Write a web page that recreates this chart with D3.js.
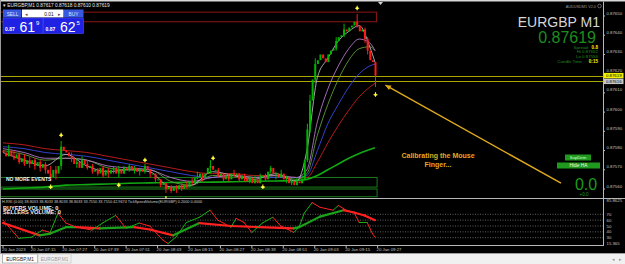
<!DOCTYPE html>
<html>
<head>
<meta charset="utf-8">
<script src="https://cdn.jsdelivr.net/npm/d3@7"></script>
<style>
  html, body { margin: 0; padding: 0; background: #f0f0f0; overflow: hidden; }
  svg { display: block; font-family: "Liberation Sans", Arial, sans-serif; }
</style>
</head>
<body>
<script>
// EURGBP M1 candles, 20 Jan 2023 (bar 0 = 07:04)
const firstOpen = 0.87580;
const closes = [
  0.87579, 0.87577, 0.87580, 0.87577, 0.87576, 0.87578, 0.87574, 0.87576, 0.87573, 0.87575,
  0.87573, 0.87575, 0.87572, 0.87574, 0.87571, 0.87573, 0.87570, 0.87568, 0.87566, 0.87570,
  0.87568, 0.87572, 0.87582, 0.87580, 0.87579, 0.87577, 0.87576, 0.87573, 0.87574, 0.87571,
  0.87575, 0.87573, 0.87571, 0.87572, 0.87569, 0.87570, 0.87568, 0.87571, 0.87567, 0.87570,
  0.87568, 0.87570, 0.87571, 0.87568, 0.87570, 0.87568, 0.87571, 0.87570, 0.87572, 0.87570,
  0.87571, 0.87569, 0.87570, 0.87569, 0.87572, 0.87570, 0.87568, 0.87568, 0.87565, 0.87565,
  0.87562, 0.87563, 0.87560, 0.87561, 0.87559, 0.87561, 0.87560, 0.87562, 0.87560, 0.87562,
  0.87561, 0.87564, 0.87563, 0.87566, 0.87566, 0.87568, 0.87566, 0.87568, 0.87571, 0.87572,
  0.87570, 0.87570, 0.87567, 0.87568, 0.87565, 0.87567, 0.87565, 0.87568, 0.87567, 0.87568,
  0.87565, 0.87567, 0.87566, 0.87564, 0.87566, 0.87563, 0.87565, 0.87563, 0.87566, 0.87567,
  0.87565, 0.87569, 0.87571, 0.87568, 0.87568, 0.87566, 0.87568, 0.87565, 0.87566, 0.87563,
  0.87564, 0.87562, 0.87564, 0.87563, 0.87565, 0.87575, 0.87591, 0.87606, 0.87617, 0.87625,
  0.87627, 0.87630, 0.87628, 0.87626, 0.87630, 0.87632, 0.87633, 0.87637, 0.87639, 0.87640,
  0.87643, 0.87642, 0.87644, 0.87645, 0.87647, 0.87645, 0.87642, 0.87643, 0.87638, 0.87632,
  0.87627, 0.87626, 0.87619
];
// [bar, high, low] for candles with visible shadows
const wicks = [
  [2, 0.87583, 0.87577], [4, 0.87580, 0.87575], [6, 0.87579, 0.87573], [8, 0.87578, 0.87572],
  [10, 0.87577, 0.87571], [12, 0.87576, 0.87570], [14, 0.87575, 0.87569], [16, 0.87574, 0.87568],
  [18, 0.87572, 0.87564], [20, 0.87572, 0.87565], [22, 0.87585, 0.87570], [26, 0.87579, 0.87574],
  [28, 0.87576, 0.87571], [30, 0.87577, 0.87571], [32, 0.87575, 0.87570], [34, 0.87573, 0.87568],
  [36, 0.87571, 0.87567], [38, 0.87572, 0.87566], [40, 0.87571, 0.87566], [42, 0.87572, 0.87568],
  [44, 0.87572, 0.87566], [46, 0.87572, 0.87568], [48, 0.87573, 0.87569], [50, 0.87572, 0.87568],
  [52, 0.87571, 0.87567], [54, 0.87573, 0.87568], [56, 0.87570, 0.87566], [58, 0.87568, 0.87563],
  [60, 0.87565, 0.87561], [62, 0.87563, 0.87558], [64, 0.87562, 0.87558], [66, 0.87562, 0.87558],
  [68, 0.87563, 0.87559], [70, 0.87564, 0.87560], [72, 0.87566, 0.87562], [74, 0.87569, 0.87565],
  [76, 0.87568, 0.87564], [79, 0.87575, 0.87568], [82, 0.87571, 0.87566], [84, 0.87568, 0.87564],
  [86, 0.87568, 0.87564], [88, 0.87570, 0.87566], [90, 0.87568, 0.87564], [92, 0.87568, 0.87564],
  [94, 0.87567, 0.87563], [96, 0.87567, 0.87563], [98, 0.87568, 0.87563], [100, 0.87568, 0.87564],
  [102, 0.87572, 0.87568], [104, 0.87569, 0.87565], [106, 0.87570, 0.87566], [108, 0.87567, 0.87563],
  [110, 0.87566, 0.87562], [112, 0.87566, 0.87562], [114, 0.87567, 0.87563],
  [116, 0.87594, 0.87574], [117, 0.87609, 0.87589], [119, 0.87628, 0.87615], [127, 0.87639, 0.87632],
  [130, 0.87646, 0.87639], [135, 0.87651, 0.87644], [138, 0.87644, 0.87636], [139, 0.87639, 0.87630],
  [142, 0.87626, 0.87613]
];
const fractalUp = [[22, 0.87588], [54, 0.87575], [80, 0.87576], [135, 0.87654]];
const fractalDown = [[18, 0.87561], [44, 0.87562], [62, 0.87555], [99, 0.87561], [142, 0.87609]];

// moving averages, read at these bars
const maBars = [0, 8, 16, 24, 32, 40, 48, 56, 64, 72, 80, 88, 96, 104, 112, 116, 120, 124, 128, 132, 136, 140, 142];
const maGray = [0.87579, 0.87575, 0.87572, 0.87578, 0.87572, 0.87569, 0.87570, 0.87569, 0.87561, 0.87562, 0.87569, 0.87567, 0.87565, 0.87568, 0.87564, 0.87580, 0.87618, 0.87628, 0.87637, 0.87642, 0.87645, 0.87634, 0.87626];
const maPink = [0.87581, 0.87579, 0.87576, 0.87576, 0.87575, 0.87572, 0.87571, 0.87570, 0.87566, 0.87564, 0.87566, 0.87567, 0.87566, 0.87567, 0.87566, 0.87570, 0.87595, 0.87612, 0.87624, 0.87633, 0.87638, 0.87636, 0.87632];
const maGreen = [0.87580, 0.87578, 0.87575, 0.87576, 0.87575, 0.87571, 0.87570, 0.87570, 0.87564, 0.87562, 0.87567, 0.87567, 0.87566, 0.87567, 0.87565, 0.87568, 0.87588, 0.87604, 0.87617, 0.87627, 0.87633, 0.87634, 0.87632];
const maBlue = [0.87582, 0.87581, 0.87579, 0.87578, 0.87577, 0.87575, 0.87573, 0.87571, 0.87569, 0.87567, 0.87566, 0.87567, 0.87566, 0.87566, 0.87566, 0.87567, 0.87580, 0.87594, 0.87604, 0.87613, 0.87620, 0.87624, 0.87625];
const maRed = [0.87584, 0.87583, 0.87581, 0.87580, 0.87579, 0.87577, 0.87575, 0.87573, 0.87571, 0.87569, 0.87568, 0.87568, 0.87567, 0.87567, 0.87566, 0.87566, 0.87574, 0.87584, 0.87593, 0.87601, 0.87608, 0.87613, 0.87615];
const maSlow = [0.875600, 0.875605, 0.875610, 0.875620, 0.875623, 0.875626, 0.875630, 0.875632, 0.875634, 0.875635, 0.875636, 0.875638, 0.875640, 0.875642, 0.875644, 0.875650, 0.875670, 0.875700, 0.875730, 0.875760, 0.875785, 0.875805, 0.875815];

// zones
const supplyZone = [0.87647, 0.87652];
const demandZones = [[0.87561, 0.87566], [0.87556, 0.87560]];
const bidPrice = 0.87619;
const askPrice = 0.87616;
const arrowFrom = [146, 0.87614];
const arrowTo = [213, 0.87563];

// oscillator lines
const fastBars = [0, 6, 11, 15, 18, 21, 24, 28, 34, 38, 43, 47, 52, 56, 61, 63, 66, 70, 75, 79, 82, 87, 89, 92, 95, 99, 103, 106, 108, 111, 113, 115, 118, 121, 126, 128, 131, 134, 136, 139, 141, 142];
const fastVals = [60, 29, 31, 43, 39, 72, 55, 48, 43, 55, 68, 46, 55, 50, 26, 20, 31, 56, 65, 77, 60, 48, 63, 56, 39, 55, 65, 50, 46, 39, 48, 72, 90, 82, 77, 85, 77, 73, 56, 56, 37, 31];
const slowBars = [0, 14, 18, 24, 28, 37, 50, 56, 65, 75, 87, 98, 111, 113, 121, 130, 134, 138, 142];
const slowVals = [55, 34, 37, 48, 48, 46, 48, 44, 34, 55, 50, 48, 46, 48, 66, 77, 73, 68, 60];
const oscLevels = [70, 60, 50, 40, 30];

// axis labels
const priceTicks = [0.87560, 0.87570, 0.87580, 0.87590, 0.87600, 0.87610, 0.87620, 0.87630, 0.87640, 0.87650];
const timeLabels = ["20 Jan 2023", "20 Jan 07:15", "20 Jan 07:27", "20 Jan 07:39", "20 Jan 07:51", "20 Jan 08:03", "20 Jan 08:15", "20 Jan 08:27", "20 Jan 08:39", "20 Jan 08:51", "20 Jan 09:03", "20 Jan 09:15", "20 Jan 09:27"];
const timeBars = [0, 11, 23, 35, 47, 59, 71, 83, 95, 107, 119, 131, 143];

const W = 625, H = 264;
const axisX = 603;
const mainTop = 2, mainBottom = 198, indTop = 199, indBottom = 245;

const svg = d3.select("body").append("svg").attr("width", W).attr("height", H);

// scales
const x = d3.scaleLinear().domain([0, 142]).range([3, 375]);
const yP = d3.scaleLinear().domain([0.87560, 0.87650]).range([189, 16]);
const yI = d3.scaleLinear().domain([30, 70]).range([237.7, 214.3]);

// background / frame
svg.append("rect").attr("width", W).attr("height", 253).attr("fill", "#000");
svg.append("rect").attr("width", W).attr("height", 1.5).attr("fill", "#d8d8d8");
svg.append("line").attr("x1", 0.5).attr("x2", 0.5).attr("y1", 0).attr("y2", 253).attr("stroke", "#9a9a9a");

const defs = svg.append("defs");
defs.append("clipPath").attr("id", "clipMain").append("rect")
  .attr("x", 1).attr("y", mainTop).attr("width", axisX - 1).attr("height", mainBottom - mainTop);
defs.append("clipPath").attr("id", "clipInd").append("rect")
  .attr("x", 1).attr("y", indTop).attr("width", axisX - 1).attr("height", indBottom - indTop);

const main = svg.append("g").attr("clip-path", "url(#clipMain)");

// zones
main.append("rect")
  .attr("x", x(-1.5)).attr("width", x(142.6) - x(-1.5))
  .attr("y", yP(supplyZone[1])).attr("height", yP(supplyZone[0]) - yP(supplyZone[1]))
  .attr("fill", "none").attr("stroke", "#8c1616").attr("stroke-width", 1);
demandZones.forEach((z) => {
  main.append("rect")
    .attr("x", x(-1.5)).attr("width", x(142.8) - x(-1.5))
    .attr("y", yP(z[1])).attr("height", yP(z[0]) - yP(z[1]))
    .attr("fill", "none").attr("stroke", "#1c7a1c").attr("stroke-width", 1);
});

// bid / ask lines
[bidPrice, askPrice].forEach((p) => {
  main.append("line").attr("x1", 0).attr("x2", axisX)
    .attr("y1", Math.round(yP(p)) + 0.5).attr("y2", Math.round(yP(p)) + 0.5)
    .attr("stroke", "#a8a800").attr("stroke-width", 1);
});

// moving averages
const maLine = d3.line()
  .x((d, k) => x(maBars[k]))
  .y((d) => yP(d))
  .curve(d3.curveMonotoneX);
main.append("path").attr("d", maLine(maSlow)).attr("fill", "none").attr("stroke", "#12a812").attr("stroke-width", 1.6);
const maList = [
  [maRed, "#c81e1e"],
  [maBlue, "#3a48e0"],
  [maGreen, "#5f9e3a"],
  [maPink, "#b478c8"],
  [maGray, "#b8b8b8"]
];
maList.forEach(([vals, col]) => {
  main.append("path").attr("d", maLine(vals)).attr("fill", "none").attr("stroke", col).attr("stroke-width", 0.9);
});

// candles
const candles = closes.map((c, i) => ({ i: i, o: i ? closes[i - 1] : firstOpen, c: c }));
main.selectAll(".wick").data(wicks).enter().append("line")
  .attr("x1", (d) => x(d[0]) + 0.5).attr("x2", (d) => x(d[0]) + 0.5)
  .attr("y1", (d) => yP(d[1])).attr("y2", (d) => yP(d[2]))
  .attr("stroke", (d) => (candles[d[0]].c >= candles[d[0]].o ? "#00b400" : "#ff1a1a"))
  .attr("stroke-width", 1);
main.selectAll(".body").data(candles).enter().append("rect")
  .attr("x", (d) => x(d.i) - 0.5)
  .attr("width", 2)
  .attr("y", (d) => yP(Math.max(d.o, d.c)))
  .attr("height", (d) => Math.max(1, Math.abs(yP(d.o) - yP(d.c))))
  .attr("fill", (d) => (d.c >= d.o ? "#00b400" : "#ff1a1a"));

// fractal markers
function marker(g, bx, by) {
  g.append("path")
    .attr("d", `M${bx - 2},${by} L${bx + 2},${by} M${bx},${by - 2.5} L${bx},${by + 2}`)
    .attr("stroke", "#ffff40").attr("stroke-width", 1.1);
  g.append("circle").attr("cx", bx).attr("cy", by).attr("r", 1.2).attr("fill", "#ffff40");
}
fractalUp.forEach((d) => marker(main, x(d[0]) + 0.5, yP(d[1])));
fractalDown.forEach((d) => marker(main, x(d[0]) + 0.5, yP(d[1])));

// annotation arrow
const ax1 = x(arrowFrom[0]), ay1 = yP(arrowFrom[1]), ax2 = x(arrowTo[0]), ay2 = yP(arrowTo[1]);
main.append("line").attr("x1", ax1).attr("y1", ay1).attr("x2", ax2).attr("y2", ay2)
  .attr("stroke", "#e0aa1c").attr("stroke-width", 1.4);
const ang = Math.atan2(ay2 - ay1, ax2 - ax1);
main.append("path")
  .attr("d", `M${ax1},${ay1} L${ax1 + 6 * Math.cos(ang - 0.45)},${ay1 + 6 * Math.sin(ang - 0.45)} L${ax1 + 6 * Math.cos(ang + 0.45)},${ay1 + 6 * Math.sin(ang + 0.45)} Z`)
  .attr("fill", "#e0aa1c");

main.append("text").attr("x", 438).attr("y", 158).attr("text-anchor", "middle")
  .attr("font-size", 7).attr("font-weight", "bold").attr("fill", "#e6a81e").text("Calibrating the Mouse");
main.append("text").attr("x", 438).attr("y", 166.5).attr("text-anchor", "middle")
  .attr("font-size", 7).attr("font-weight", "bold").attr("fill", "#e6a81e").text("Finger...");

main.append("text").attr("x", 6).attr("y", 181).attr("font-size", 5).attr("font-weight", "bold")
  .attr("fill", "#f0f0f0").text("NO MORE EVENTS");

// header
svg.append("text").attr("x", 3).attr("y", 7).attr("font-size", 4.8).attr("fill", "#e8e8e8")
  .text("\u25BE EURGBP,M1  0.87617 0.87618 0.87610 0.87619");
svg.append("path").attr("d", "M378,2 L383,2 L380.5,5 Z").attr("fill", "#d0d0d0");

// one click trading panel
svg.append("rect").attr("x", 3).attr("y", 9.5).attr("width", 18.5).attr("height", 8).attr("fill", "#3858e0");
svg.append("text").attr("x", 12.5).attr("y", 15.6).attr("text-anchor", "middle").attr("font-size", 4.8).attr("fill", "#dfe6ff").text("SELL");
svg.append("rect").attr("x", 22).attr("y", 9.5).attr("width", 41.5).attr("height", 8).attr("fill", "#ffffff");
svg.append("text").attr("x", 26).attr("y", 15.5).attr("text-anchor", "middle").attr("font-size", 4.5).attr("fill", "#555").text("\u25C2");
svg.append("text").attr("x", 59).attr("y", 15.5).attr("text-anchor", "middle").attr("font-size", 4.5).attr("fill", "#555").text("\u25B8");
svg.append("text").attr("x", 49).attr("y", 15.6).attr("text-anchor", "middle").attr("font-size", 4.8).attr("fill", "#111").text("0.01");
svg.append("rect").attr("x", 64).attr("y", 9.5).attr("width", 19.5).attr("height", 8).attr("fill", "#3858e0");
svg.append("text").attr("x", 73.5).attr("y", 15.6).attr("text-anchor", "middle").attr("font-size", 4.8).attr("fill", "#dfe6ff").text("BUY");
const quoteBoxes = [[3, "61", "9"], [43.5, "62", "5"]];
quoteBoxes.forEach(([bx, big, sup]) => {
  svg.append("rect").attr("x", bx).attr("y", 18).attr("width", 40).attr("height", 15.5)
    .attr("fill", "#1f22e2").attr("stroke", "#4a50ff").attr("stroke-width", 0.6);
  svg.append("text").attr("x", bx + 2).attr("y", 30.5).attr("font-size", 5).attr("font-weight", "bold").attr("fill", "#fff").text("0.87");
  svg.append("text").attr("x", bx + 16.5).attr("y", 32).attr("font-size", 14).attr("fill", "#fff").text(big);
  svg.append("text").attr("x", bx + 33).attr("y", 24.5).attr("font-size", 6).attr("fill", "#fff").text(sup);
});

// info block top right
svg.append("text").attr("x", 596).attr("y", 7.5).attr("text-anchor", "end").attr("font-size", 3.8).attr("fill", "#9a9a9a").text("AUDUSDM1 V2.0");
svg.append("circle").attr("cx", 599.5).attr("cy", 6).attr("r", 1.8).attr("fill", "none").attr("stroke", "#9a9a9a").attr("stroke-width", 0.6);
svg.append("text").attr("x", 600).attr("y", 27).attr("text-anchor", "end").attr("font-size", 14).attr("fill", "#d6d6d6").text("EURGBP M1");
svg.append("text").attr("x", 596).attr("y", 43).attr("text-anchor", "end").attr("font-size", 16).attr("fill", "#1f8c1f").text("0.87619");
const infoRows = [
  [48.5, "Spread:", "0.8", 589],
  [53, "Hi 0.87652", "", 598],
  [57.5, "Lo 0.87556", "", 598],
  [62.5, "Candle Time", "0:15", 582]
];
infoRows.forEach(([yy, lab, val, endX]) => {
  svg.append("text").attr("x", endX).attr("y", yy).attr("text-anchor", "end")
    .attr("font-size", 4.4).attr("fill", "#1f8c1f").text(lab);
  if (val) {
    svg.append("text").attr("x", 598).attr("y", yy).attr("text-anchor", "end")
      .attr("font-size", 4.6).attr("font-weight", "bold").attr("fill", "#f0f000").text(val);
  }
});

// buttons + counter
svg.append("rect").attr("x", 565).attr("y", 154.5).attr("width", 26).attr("height", 6).attr("fill", "#1f9a1f");
svg.append("text").attr("x", 578).attr("y", 159.2).attr("text-anchor", "middle").attr("font-size", 4.2).attr("fill", "#d8ffd8").text("SupDem");
svg.append("rect").attr("x", 557).attr("y", 162.5).attr("width", 43).attr("height", 6).attr("fill", "#1f9a1f");
svg.append("text").attr("x", 578.5).attr("y", 167.4).attr("text-anchor", "middle").attr("font-size", 4.8).attr("fill", "#e8ffe8").text("Hide HA");
svg.append("text").attr("x", 586).attr("y", 189.5).attr("text-anchor", "middle").attr("font-size", 16).attr("fill", "#1f9a1f").text("0.0");
svg.append("text").attr("x", 584).attr("y", 195.5).attr("text-anchor", "middle").attr("font-size", 4.6).attr("fill", "#1f9a1f").text("+0.0");

// price axis
svg.append("line").attr("x1", axisX + 0.5).attr("x2", axisX + 0.5).attr("y1", 1.5).attr("y2", indBottom)
  .attr("stroke", "#b8b8b8");
priceTicks.forEach((t) => {
  svg.append("line").attr("x1", axisX).attr("x2", axisX + 2).attr("y1", yP(t)).attr("y2", yP(t)).attr("stroke", "#b8b8b8");
  svg.append("text").attr("x", axisX + 3.5).attr("y", yP(t) - 1.5).attr("font-size", 4.3).attr("fill", "#c4c4c4")
    .text(d3.format(".5f")(t));
});
[[bidPrice, "#f0f000"], [askPrice, "#c8c8c8"]].forEach(([p, col]) => {
  const yy = yP(p);
  svg.append("rect").attr("x", axisX + 1).attr("y", yy - 2.7).attr("width", 19.5).attr("height", 5.4).attr("fill", col);
  svg.append("text").attr("x", axisX + 3).attr("y", yy + 1.6).attr("font-size", 4.3).attr("fill", "#000")
    .text(d3.format(".5f")(p));
});

// panel separators
svg.append("line").attr("x1", 0).attr("x2", W).attr("y1", mainBottom + 0.5).attr("y2", mainBottom + 0.5).attr("stroke", "#b8b8b8");
svg.append("line").attr("x1", 0).attr("x2", axisX + 1).attr("y1", indBottom + 0.5).attr("y2", indBottom + 0.5).attr("stroke", "#b8b8b8");

// oscillator
const ind = svg.append("g").attr("clip-path", "url(#clipInd)");
oscLevels.forEach((lv) => {
  ind.append("line").attr("x1", 0).attr("x2", axisX).attr("y1", yI(lv)).attr("y2", yI(lv))
    .attr("stroke", "#8a8a8a").attr("stroke-width", 0.7).attr("stroke-dasharray", "1,1.5");
});
for (let k = 0; k < slowBars.length - 1; k++) {
  ind.append("line")
    .attr("x1", x(slowBars[k])).attr("y1", yI(slowVals[k]))
    .attr("x2", x(slowBars[k + 1])).attr("y2", yI(slowVals[k + 1]))
    .attr("stroke", slowVals[k + 1] >= slowVals[k] ? "#1aa31a" : "#ff2020")
    .attr("stroke-width", 2.2).attr("stroke-linecap", "round");
}
for (let k = 0; k < fastBars.length - 1; k++) {
  ind.append("line")
    .attr("x1", x(fastBars[k])).attr("y1", yI(fastVals[k]))
    .attr("x2", x(fastBars[k + 1])).attr("y2", yI(fastVals[k + 1]))
    .attr("stroke", fastVals[k + 1] >= fastVals[k] ? "#16b016" : "#ff2020")
    .attr("stroke-width", 1).attr("stroke-linecap", "round");
}
ind.append("text").attr("x", 2).attr("y", 202.5).attr("font-size", 3.8).attr("fill", "#c8c8c8")
  .text("H-RSI (0.00) 38.8033 38.8033 38.8033 38.8033 33.7550 33.7550 42.9674      TickSpeedVolume(EURGBP) 0.2000 0.0000");
ind.append("text").attr("x", 3).attr("y", 209.5).attr("font-size", 5.6).attr("font-weight", "bold").attr("fill", "#f4f4f4").text("BUYERS VOLUME: 0");
ind.append("text").attr("x", 3).attr("y", 214.2).attr("font-size", 5.6).attr("font-weight", "bold").attr("fill", "#f4f4f4").text("SELLERS VOLUME: 0");

// oscillator axis
svg.append("text").attr("x", axisX + 3.5).attr("y", 202).attr("font-size", 4.3).attr("fill", "#c4c4c4").text("85.8625");
oscLevels.forEach((lv) => {
  svg.append("text").attr("x", axisX + 3.5).attr("y", yI(lv) + 1.5).attr("font-size", 4.3).attr("fill", "#c4c4c4").text(lv);
});
svg.append("text").attr("x", axisX + 3.5).attr("y", 244.5).attr("font-size", 4.3).attr("fill", "#c4c4c4").text("15.365");

// time axis
timeLabels.forEach((lab, k) => {
  const tx = x(timeBars[k]);
  svg.append("line").attr("x1", tx).attr("x2", tx).attr("y1", indBottom + 1).attr("y2", indBottom + 3).attr("stroke", "#b8b8b8");
  svg.append("text").attr("x", tx - 1).attr("y", 250.5).attr("font-size", 4.3).attr("fill", "#c4c4c4").text(lab);
});

// tab bar
svg.append("rect").attr("x", 0).attr("y", 253).attr("width", W).attr("height", 11).attr("fill", "#f0f0f0");
svg.append("line").attr("x1", 0).attr("x2", W).attr("y1", 253.5).attr("y2", 253.5).attr("stroke", "#a0a0a0");
svg.append("rect").attr("x", 2.5).attr("y", 254).attr("width", 35).attr("height", 9).attr("fill", "#fff").attr("stroke", "#9a9a9a").attr("stroke-width", 0.7);
svg.append("text").attr("x", 20).attr("y", 260.5).attr("text-anchor", "middle").attr("font-size", 4.8).attr("fill", "#222").text("EURGBP,M1");
svg.append("rect").attr("x", 38).attr("y", 254).attr("width", 33).attr("height", 9).attr("fill", "#f0f0f0").attr("stroke", "#c8c8c8").attr("stroke-width", 0.7);
svg.append("text").attr("x", 54.5).attr("y", 260.5).attr("text-anchor", "middle").attr("font-size", 4.8).attr("fill", "#9a9a9a").text("EURGBP,M1");
svg.append("text").attr("x", 612).attr("y", 261).attr("font-size", 4.5).attr("fill", "#9a9a9a").text("\u25C2");
svg.append("text").attr("x", 619).attr("y", 261).attr("font-size", 4.5).attr("fill", "#9a9a9a").text("\u25B8");
</script>
</body>
</html>
